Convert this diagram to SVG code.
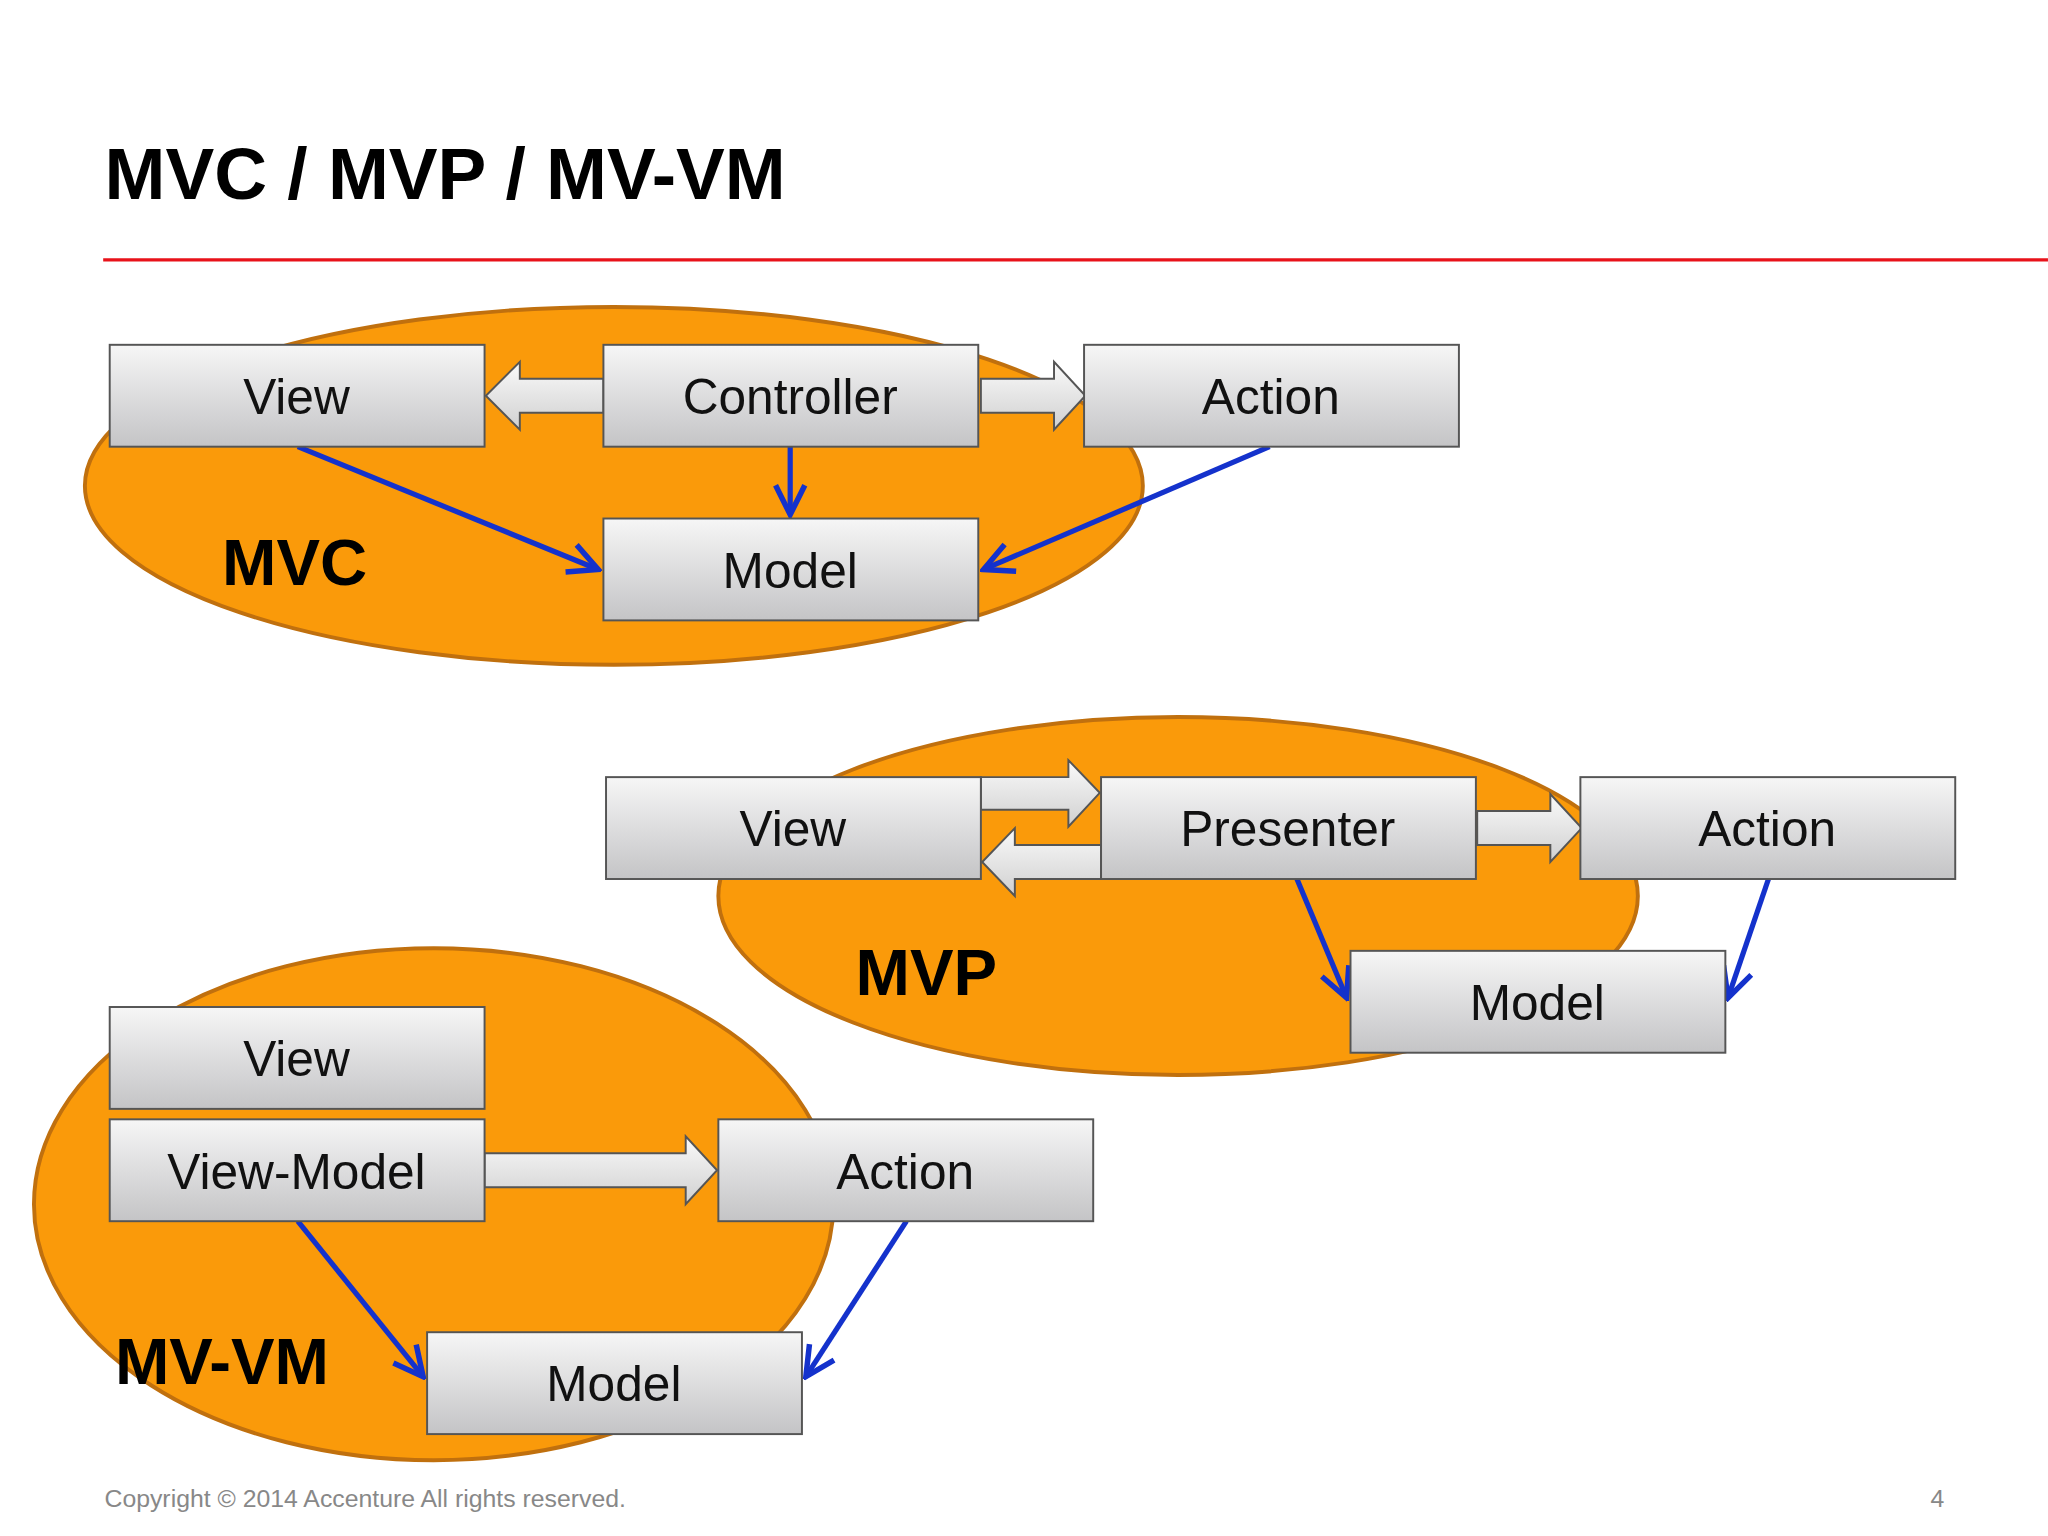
<svg xmlns="http://www.w3.org/2000/svg" width="2048" height="1536" viewBox="0 0 2048 1536">
<defs>
<linearGradient id="bg" x1="0" y1="0" x2="0" y2="1"><stop offset="0" stop-color="#f6f6f6"/><stop offset="1" stop-color="#c4c4c6"/></linearGradient>
<linearGradient id="ag" x1="0" y1="0" x2="0" y2="1"><stop offset="0" stop-color="#fafafa"/><stop offset="1" stop-color="#d0d0d0"/></linearGradient>
<marker id="ah" viewBox="0 0 20 20" refX="18" refY="10" markerWidth="7" markerHeight="7" markerUnits="strokeWidth" orient="auto"><path d="M2,2 L18,10 L2,18" fill="none" stroke="#1432cc" stroke-width="3"/></marker>
</defs>
<style>
.box{fill:url(#bg);stroke:#555;stroke-width:1.5}
.lbl{font-family:"Liberation Sans",Arial,sans-serif;font-size:38px;fill:#111;text-anchor:middle}
.big{font-family:"Liberation Sans",Arial,sans-serif;font-size:50px;font-weight:bold;fill:#000}
.ell{fill:#fa9a0a;stroke:#c0700e;stroke-width:3}
.ha{fill:url(#ag);stroke:#555;stroke-width:1.5}
.bl{stroke:#1432cc;stroke-width:4;fill:none;marker-end:url(#ah)}
</style>
<rect width="2048" height="1536" fill="#fff"/>
<g transform="scale(1.3061)">
<text x="80" y="152" style="font-family:'Liberation Sans',Arial,sans-serif;font-size:56px;font-weight:bold">MVC / MVP / MV-VM</text>
<line x1="79" y1="199" x2="1568" y2="199" stroke="#e8121a" stroke-width="2.5"/>
<g id="ellipses">
<ellipse class="ell" cx="470" cy="372" rx="405" ry="137"/>
<ellipse class="ell" cx="902" cy="686" rx="352" ry="137"/>
<ellipse class="ell" cx="332" cy="922" rx="306" ry="196"/>
</g>
<text class="big" x="170" y="448">MVC</text>
<text class="big" x="655" y="762">MVP</text>
<text class="big" x="88" y="1060">MV-VM</text>
<g id="connectors">
<path class="ha" d="M462,290 L398,290 L398,277 L372,303 L398,329 L398,316 L462,316 Z"/>
<path class="ha" d="M751,290 L807,290 L807,277 L831,303 L807,329 L807,316 L751,316 Z"/>
<path class="ha" d="M751,595 L818,595 L818,582 L842,607 L818,633 L818,620 L751,620 Z"/>
<path class="ha" d="M843,647 L777,647 L777,634 L752,660 L777,686 L777,673 L843,673 Z"/>
<path class="ha" d="M1131,621 L1187,621 L1187,608 L1211,634 L1187,660 L1187,647 L1131,647 Z"/>
<path class="ha" d="M371,883 L525,883 L525,870 L549,896 L525,922 L525,909 L371,909 Z"/>
<line class="bl" x1="228" y1="342" x2="458" y2="436"/>
<line class="bl" x1="605" y1="342" x2="605" y2="394"/>
<line class="bl" x1="972" y1="342" x2="753" y2="436"/>
<line class="bl" x1="993" y1="673" x2="1031" y2="764"/>
<line class="bl" x1="1354" y1="673" x2="1323" y2="764"/>
<line class="bl" x1="228" y1="935" x2="324" y2="1054"/>
<line class="bl" x1="694" y1="935" x2="617" y2="1054"/>
</g>
<g id="mvc-view"><rect class="box" x="84" y="264" width="287" height="78"/><text class="lbl" x="227" y="317">View</text></g>
<g id="mvc-controller"><rect class="box" x="462" y="264" width="287" height="78"/><text class="lbl" x="605" y="317">Controller</text></g>
<g id="mvc-action"><rect class="box" x="830" y="264" width="287" height="78"/><text class="lbl" x="973" y="317">Action</text></g>
<g id="mvc-model"><rect class="box" x="462" y="397" width="287" height="78"/><text class="lbl" x="605" y="450">Model</text></g>
<g id="mvp-view"><rect class="box" x="464" y="595" width="287" height="78"/><text class="lbl" x="607" y="648">View</text></g>
<g id="mvp-presenter"><rect class="box" x="843" y="595" width="287" height="78"/><text class="lbl" x="986" y="648">Presenter</text></g>
<g id="mvp-action"><rect class="box" x="1210" y="595" width="287" height="78"/><text class="lbl" x="1353" y="648">Action</text></g>
<g id="mvp-model"><rect class="box" x="1034" y="728" width="287" height="78"/><text class="lbl" x="1177" y="781">Model</text></g>
<g id="mvvm-view"><rect class="box" x="84" y="771" width="287" height="78"/><text class="lbl" x="227" y="824">View</text></g>
<g id="mvvm-viewmodel"><rect class="box" x="84" y="857" width="287" height="78"/><text class="lbl" x="227" y="910">View-Model</text></g>
<g id="mvvm-action"><rect class="box" x="550" y="857" width="287" height="78"/><text class="lbl" x="693" y="910">Action</text></g>
<g id="mvvm-model"><rect class="box" x="327" y="1020" width="287" height="78"/><text class="lbl" x="470" y="1073">Model</text></g>
<text x="80" y="1154" style="font-family:'Liberation Sans',Arial,sans-serif;font-size:19px;fill:#888">Copyright © 2014 Accenture  All rights reserved.</text>
<text x="1478" y="1154" style="font-family:'Liberation Sans',Arial,sans-serif;font-size:19px;fill:#888">4</text>
</g>
</svg>
